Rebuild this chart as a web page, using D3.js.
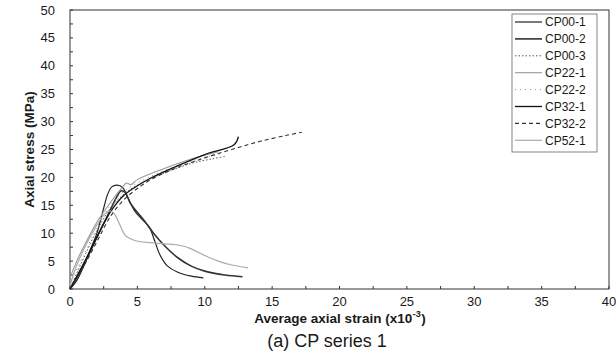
<!DOCTYPE html>
<html><head><meta charset="utf-8">
<script src="https://cdn.jsdelivr.net/npm/d3@7"></script>
<style>body{margin:0;background:#fff}svg{display:block}text{font-family:"Liberation Sans",Arial,sans-serif;fill:#1a1a1a}</style>
</head><body><svg id="c" width="616" height="356"></svg>
<script>
const seriesNames = ["CP00-1","CP00-2","CP00-3","CP22-1","CP22-2","CP32-1","CP32-2","CP52-1"];
const xTicks = [0,5,10,15,20,25,30,35,40];
const yTicks = [0,5,10,15,20,25,30,35,40,45,50];
// [strain (x10^-3), stress (MPa)]
const cp00_1 = [[0,0],[0.5,1.5],[1,4],[1.5,7],[2,10],[2.5,14.5],[2.8,17],[3.1,18.3],[3.5,18.6],[3.9,18.2],[4.3,16.3],[4.8,14],[5.3,12.6],[5.9,11],[6.3,8.5],[6.7,6],[7.2,4.2],[8,3],[9,2.3],[9.9,2.0]];
const cp00_2 = [[0,0],[1,4.2],[2,9.3],[3,14.2],[3.4,16.2],[3.8,17.6],[4.1,17.3],[4.5,15.3],[5.5,12.3],[6.2,10],[7,7.8],[8,5.6],[9,4.1],[10,3.2],[11.5,2.5],[12.8,2.2]];
const cp00_3 = [[0,0],[0.5,2.8],[1,5.5],[2,10.5],[3,14.5],[4,17],[5,18.6],[7,20.8],[9,22.5],[10.5,23.3],[11.6,23.8]];
const cp22_1 = [[0,2],[0.5,5],[1,7.5],[2,12],[3,15.5],[3.8,18],[4.2,19],[4.5,18.7],[5,19.6],[7,21.6],[9,23.3],[11,24.6]];
const cp22_2 = [[0,1],[1,6],[2,11],[3,15],[4,17.5],[6,20.2],[8,22.1],[10,23.6],[11.3,24.3]];
const cp32_1 = [[0,0],[1,4.5],[2,9.3],[3,13.8],[4,16.8],[5,18.5],[6,19.9],[8,22.1],[10,24.1],[12.2,25.9],[12.5,27.3]];
const cp32_2 = [[0,0],[1,4],[2,8.5],[3,13],[4,16],[5,18],[6,19.6],[8,21.8],[10,23.5],[12,25],[14,26.4],[16,27.5],[17.2,28.1]];
const cp52_1 = [[0,0.5],[0.3,3],[1,7],[2,11.5],[2.6,13.5],[3.0,14],[3.3,13.4],[3.7,11.5],[4.1,9.6],[4.8,8.7],[6,8.3],[7,8.1],[8.2,7.8],[9,7.2],[10,6],[11,5],[12,4.3],[13.2,3.8]];
const seriesData = [cp00_1,cp00_2,cp00_3,cp22_1,cp22_2,cp32_1,cp32_2,cp52_1];
const styles = [
  {c:"#222",w:1.2,d:null},
  {c:"#333",w:1.6,d:null},
  {c:"#555",w:1,d:"1.5,2"},
  {c:"#999",w:1.1,d:null},
  {c:"#888",w:1,d:"1,4"},
  {c:"#111",w:1.3,d:null},
  {c:"#333",w:1.1,d:"4,3"},
  {c:"#aaa",w:1.2,d:null}
];
const svg = d3.select("#c");
const L=70,R=609,T=10,B=289;
const x = d3.scaleLinear().domain([0,40]).range([L,R]);
const y = d3.scaleLinear().domain([0,50]).range([B,T]);
svg.append("rect").attr("x",L).attr("y",T).attr("width",R-L).attr("height",B-T).attr("fill","none").attr("stroke","#333").attr("stroke-width",1);
const g = svg.append("g");
d3.range(0,40.01,2.5).forEach(v=>{g.append("line").attr("x1",x(v)).attr("x2",x(v)).attr("y1",B).attr("y2",B-3).attr("stroke","#333");});
d3.range(0,50.01,2.5).forEach(v=>{g.append("line").attr("x1",L).attr("x2",L+3).attr("y1",y(v)).attr("y2",y(v)).attr("stroke","#333");});
xTicks.forEach(v=>svg.append("text").attr("x",x(v)).attr("y",B+17).attr("text-anchor","middle").attr("font-size",13).text(v));
yTicks.forEach(v=>svg.append("text").attr("x",L-15).attr("y",y(v)+4.5).attr("text-anchor","end").attr("font-size",13).text(v));
// x axis title built from separate pieces
const cx=(L+R)/2, ty=323;
const t1 = svg.append("text").attr("y",ty).attr("font-size",13.5).attr("font-weight","bold").text("Average axial strain (x10");
const t2 = svg.append("text").attr("y",ty-6).attr("font-size",9).attr("font-weight","bold").text("-3");
const t3 = svg.append("text").attr("y",ty).attr("font-size",13.5).attr("font-weight","bold").text(")");
const w1=t1.node().getComputedTextLength(), w2=t2.node().getComputedTextLength(), w3=t3.node().getComputedTextLength();
const x0 = cx-(w1+w2+w3)/2;
t1.attr("x",x0); t2.attr("x",x0+w1+0.5); t3.attr("x",x0+w1+w2+1);
svg.append("text").attr("transform",`translate(34,${(T+B)/2}) rotate(-90)`).attr("text-anchor","middle").attr("font-size",13.5).attr("font-weight","bold").text("Axial stress (MPa)");
svg.append("text").attr("x",327).attr("y",347).attr("text-anchor","middle").attr("font-size",18).text("(a) CP series 1");
const line = d3.line().x(d=>x(d[0])).y(d=>y(d[1])).curve(d3.curveCatmullRom.alpha(0.5));
seriesData.forEach((s,i)=>{
  const p = svg.append("path").attr("d",line(s)).attr("fill","none").attr("stroke",styles[i].c).attr("stroke-width",styles[i].w);
  if(styles[i].d) p.attr("stroke-dasharray",styles[i].d);
});
const lg = svg.append("g");
lg.append("rect").attr("x",512).attr("y",14).attr("width",85).attr("height",138).attr("fill","#fff").attr("stroke","#666").attr("stroke-width",0.8);
seriesNames.forEach((n,i)=>{
  const yy = 22 + i*16.9;
  const l = lg.append("line").attr("x1",515).attr("x2",542).attr("y1",yy).attr("y2",yy).attr("stroke",styles[i].c).attr("stroke-width",styles[i].w);
  if(styles[i].d) l.attr("stroke-dasharray",styles[i].d);
  lg.append("text").attr("x",545).attr("y",yy+4.3).attr("font-size",12).text(n);
});
</script></body></html>
